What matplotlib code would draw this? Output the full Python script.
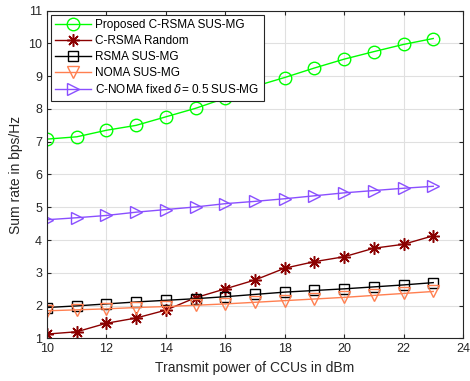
import matplotlib
matplotlib.use("Agg")
import matplotlib.pyplot as plt

plt.rcParams["font.family"] = ["Liberation Sans", "DejaVu Sans"]
plt.rcParams["mathtext.fontset"] = "dejavusans"

# Data
power_dbm = [10, 11, 12, 13, 14, 15, 16, 17, 18, 19, 20, 21, 22, 23]
crsma_susmg = [7.08, 7.15, 7.35, 7.50, 7.76, 8.02, 8.33, 8.69, 8.96, 9.25, 9.52, 9.75, 9.97, 10.15]
crsma_random = [1.13, 1.20, 1.46, 1.62, 1.86, 2.24, 2.51, 2.78, 3.14, 3.34, 3.49, 3.75, 3.87, 4.13]
rsma_susmg = [1.94, 1.99, 2.05, 2.11, 2.16, 2.21, 2.27, 2.34, 2.41, 2.46, 2.51, 2.57, 2.63, 2.70]
noma_susmg = [1.84, 1.87, 1.90, 1.94, 1.97, 2.01, 2.05, 2.10, 2.15, 2.20, 2.25, 2.31, 2.37, 2.43]
cnoma_fixed = [4.62, 4.68, 4.75, 4.85, 4.93, 5.01, 5.11, 5.18, 5.26, 5.35, 5.44, 5.51, 5.58, 5.64]

labels = [
    "Proposed C-RSMA SUS-MG",
    "C-RSMA Random",
    "RSMA SUS-MG",
    "NOMA SUS-MG",
    r"C-NOMA fixed $\delta$= 0.5 SUS-MG",
]

fig = plt.figure(figsize=(4.70, 3.81), dpi=100)
ax = fig.add_axes([0.100, 0.112, 0.885, 0.860])

ax.plot(power_dbm, crsma_susmg, color="#00ff00", lw=1.0, marker="o",
        ms=9, mfc="none", mew=1.0, label=labels[0])
# MATLAB-style asterisk: 8 spokes
ax.plot(power_dbm, crsma_random, color="#8b0000", lw=1.0, marker=(8, 2, 0),
        ms=9, mew=1.1, label=labels[1])
ax.plot(power_dbm, rsma_susmg, color="black", lw=1.0, marker="s",
        ms=6.5, mfc="none", mew=1.0, label=labels[2])
ax.plot(power_dbm, noma_susmg, color="#ff7f50", lw=1.0, marker="v",
        ms=9, mfc="none", mew=1.0, label=labels[3])
ax.plot(power_dbm, cnoma_fixed, color="#8a4fff", lw=1.0, marker=">",
        ms=9, mfc="none", mew=1.0, label=labels[4])

ax.set_xlim(10, 24)
ax.set_ylim(1, 11)
ax.set_xticks(range(10, 25, 2))
ax.set_yticks(range(1, 12))
ax.grid(True, color="#e0e0e0", lw=0.8)
ax.set_axisbelow(True)
ax.tick_params(direction="in", top=True, right=True, labelsize=9,
               colors="#262626", length=3)
for sp in ax.spines.values():
    sp.set_color("#262626")
    sp.set_linewidth(0.8)

ax.set_xlabel("Transmit power of CCUs in dBm", fontsize=10, color="#262626")
ax.set_ylabel("Sum rate in bps/Hz", fontsize=10, color="#262626")

leg = ax.legend(loc="upper left", fontsize=8.5, handlelength=3.0,
                handletextpad=0.4, labelspacing=0.35, borderpad=0.35,
                borderaxespad=0.35, fancybox=False, framealpha=1.0)
leg.get_frame().set_edgecolor("#262626")
leg.get_frame().set_linewidth(0.8)

fig.savefig("out.png", dpi=100)
